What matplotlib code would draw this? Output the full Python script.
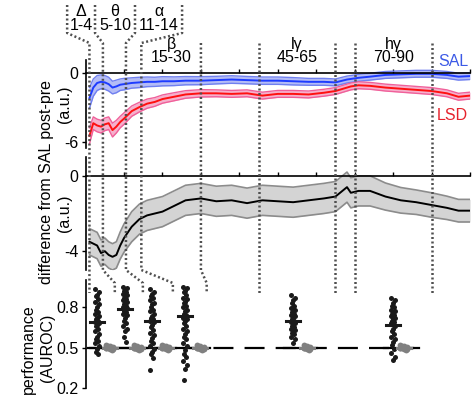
import matplotlib
matplotlib.use("Agg")
import matplotlib.pyplot as plt
from matplotlib.lines import Line2D
from matplotlib import transforms

plt.rcParams['font.family'] = ['Liberation Sans', 'DejaVu Sans']
plt.rcParams['font.size'] = 11.5

# spectra (Hz) -------------------------------------------------------------
freqs = [1, 2, 3, 4, 5, 6, 7, 8, 9, 10, 12, 14, 16, 18, 20, 23, 26, 30, 34, 38,
         42, 46, 50, 54, 58, 62, 65, 68, 69, 71, 74, 78, 82, 86, 90, 94, 97, 100]
sal_mean = [-2.2, -1.3, -0.9, -0.8, -0.85, -1.0, -1.3, -1.2, -1.05, -1.0, -0.9, -0.85,
            -0.8, -0.8, -0.75, -0.75, -0.7, -0.7, -0.65, -0.6, -0.65, -0.7, -0.7, -0.75,
            -0.8, -0.8, -0.85, -0.6, -0.55, -0.45, -0.35, -0.2, -0.15, -0.1, -0.1, -0.2,
            -0.35, -0.3]
sal_sem = [0.9, 0.75, 0.65, 0.6, 0.6, 0.6, 0.55, 0.55, 0.5, 0.5, 0.45, 0.45, 0.42, 0.4,
           0.4, 0.38, 0.36, 0.35, 0.33, 0.33, 0.32, 0.32, 0.32, 0.32, 0.3, 0.3, 0.3, 0.3,
           0.3, 0.3, 0.3, 0.3, 0.3, 0.3, 0.3, 0.3, 0.3, 0.3]
lsd_mean = [-5.5, -4.4, -4.6, -4.7, -4.5, -4.4, -5.0, -4.7, -4.3, -4.0, -3.35, -3.0,
            -2.7, -2.55, -2.3, -2.1, -1.9, -1.8, -1.8, -1.85, -1.8, -2.0, -1.85, -1.85,
            -1.9, -1.75, -1.6, -1.3, -1.2, -1.1, -1.15, -1.3, -1.4, -1.5, -1.6, -1.8,
            -2.1, -2.0]
lsd_sem = [0.7, 0.55, 0.55, 0.55, 0.55, 0.55, 0.6, 0.55, 0.5, 0.5, 0.45, 0.42, 0.4, 0.38,
           0.36, 0.35, 0.33, 0.32, 0.3, 0.3, 0.3, 0.3, 0.3, 0.3, 0.3, 0.3, 0.3, 0.3, 0.3,
           0.3, 0.3, 0.3, 0.3, 0.3, 0.3, 0.3, 0.3, 0.3]
diff_mean = [-3.5, -3.6, -3.7, -4.1, -4.0, -4.2, -4.3, -4.2, -3.7, -3.3, -2.7, -2.3,
             -2.1, -2.0, -1.9, -1.6, -1.3, -1.2, -1.35, -1.3, -1.45, -1.3, -1.35, -1.4,
             -1.3, -1.2, -1.1, -0.6, -0.9, -0.8, -0.8, -1.1, -1.3, -1.4, -1.55, -1.7,
             -1.85, -1.85]
diff_sem = [0.7, 0.7, 0.7, 0.7, 0.7, 0.7, 0.7, 0.7, 0.72, 0.75, 0.8, 0.8, 0.8, 0.8, 0.8,
            0.8, 0.8, 0.8, 0.8, 0.8, 0.8, 0.8, 0.8, 0.8, 0.8, 0.8, 0.8, 0.8, 0.8, 0.8,
            0.8, 0.72, 0.68, 0.65, 0.65, 0.62, 0.6, 0.6]

# frequency bands -----------------------------------------------------------
band_names = ["Δ", "θ", "α", "β", "lγ", "hγ"]
band_ranges = ["1-4", "5-10", "11-14", "15-30", "45-65", "70-90"]
band_edges = [1, 4.5, 10.5, 14.5, 30, 45, 65, 70, 90]

# decoding performance (AUROC) per band --------------------------------------
auroc_delta = [0.93, 0.91, 0.89, 0.88, 0.86, 0.84, 0.82, 0.80, 0.78, 0.76, 0.75, 0.73,
               0.72, 0.71, 0.70, 0.69, 0.68, 0.67, 0.66, 0.64, 0.62, 0.60, 0.58, 0.56,
               0.55, 0.53, 0.51, 0.49, 0.47, 0.455]
auroc_theta = [0.95, 0.94, 0.93, 0.92, 0.91, 0.90, 0.89, 0.88, 0.87, 0.86, 0.85, 0.84,
               0.83, 0.82, 0.81, 0.80, 0.79, 0.78, 0.77, 0.76, 0.75, 0.74, 0.72, 0.70,
               0.68, 0.66, 0.64, 0.62, 0.58, 0.54]
auroc_alpha = [0.93, 0.91, 0.90, 0.88, 0.87, 0.85, 0.83, 0.82, 0.80, 0.78, 0.77, 0.75,
               0.73, 0.72, 0.71, 0.70, 0.69, 0.67, 0.65, 0.63, 0.61, 0.59, 0.57, 0.55,
               0.53, 0.51, 0.49, 0.47, 0.45, 0.42, 0.335]
auroc_beta = [0.95, 0.94, 0.92, 0.91, 0.89, 0.87, 0.86, 0.84, 0.83, 0.81, 0.80, 0.78,
              0.77, 0.75, 0.74, 0.72, 0.71, 0.70, 0.68, 0.66, 0.64, 0.62, 0.60, 0.58,
              0.56, 0.53, 0.51, 0.48, 0.45, 0.43, 0.40, 0.37, 0.34, 0.26]
auroc_lgamma = [0.89, 0.87, 0.85, 0.83, 0.81, 0.79, 0.78, 0.77, 0.76, 0.75, 0.74, 0.73,
                0.72, 0.71, 0.70, 0.69, 0.68, 0.67, 0.66, 0.65, 0.64, 0.63, 0.62, 0.61,
                0.60, 0.58, 0.56, 0.53]
auroc_hgamma = [0.87, 0.85, 0.83, 0.81, 0.80, 0.78, 0.77, 0.76, 0.75, 0.74, 0.73, 0.72,
                0.71, 0.70, 0.69, 0.68, 0.66, 0.64, 0.62, 0.60, 0.58, 0.56, 0.54, 0.52,
                0.49, 0.46, 0.43, 0.41]
auroc_means = [0.69, 0.785, 0.70, 0.73, 0.70, 0.67]
shuffle_auroc = [0.50, 0.49, 0.51, 0.50, 0.48, 0.52, 0.50, 0.49, 0.51, 0.50, 0.495, 0.505]
auroc_all = [auroc_delta, auroc_theta, auroc_alpha, auroc_beta, auroc_lgamma, auroc_hgamma]

# layout (Hz coordinates on the shared x scale) -----------------------------
label_edges_low = [-4.8, 2.45, 12.85, 25.1]      # spread-out edges for Δ θ α labels
bottom_edges = [1, 7.6, 14.9, 22.7, 31.5, 45, 65, 70, 90]
real_x = [3.0, 10.25, 17.3, 25.9, 54, 80]
shuf_x = [6.3, 13.4, 20.9, 29.8, 57.6, 82.8]

W, H = 473, 405
fig = plt.figure(figsize=(W / 100, H / 100), dpi=100)


def fy(px):
    return 1 - px / H


x0 = 85.6 / W
wd = (470 - 85.6) / W
ax1 = fig.add_axes([x0, fy(148), wd, 88 / H])
ax2 = fig.add_axes([x0, fy(270), wd, 113 / H])
ax3 = fig.add_axes([x0, fy(388), wd, 108 / H])

blue, blue_f, blue_e = '#1e3cff', '#b4bcf6', '#7080f0'
red, red_f, red_e = '#ff1010', '#f6b0cc', '#f0609a'

for ax in (ax1, ax2, ax3):
    ax.set_facecolor('none')
    ax.set_xlim(0, 100)
    ax.spines['right'].set_visible(False)
    ax.spines['bottom'].set_visible(False)
    ax.tick_params(axis='y', direction='out', length=3, width=1, pad=2)
    ax.spines['left'].set_linewidth(1.2)

for ax in (ax1, ax2):
    ax.spines['top'].set_position(('data', 0))
    ax.spines['top'].set_linewidth(1.2)
    ax.xaxis.set_ticks_position('top')
    ax.set_xticks(range(10, 101, 10))
    ax.tick_params(axis='x', direction='out', length=3, width=1, labeltop=False)
ax3.spines['top'].set_visible(False)
ax3.set_xticks([])

# top panel: SAL and LSD post-pre
lo = [m - s for m, s in zip(sal_mean, sal_sem)]
hi = [m + s for m, s in zip(sal_mean, sal_sem)]
ax1.fill_between(freqs, lo, hi, color=blue_f, lw=0)
ax1.plot(freqs, lo, color=blue_e, lw=1)
ax1.plot(freqs, hi, color=blue_e, lw=1)
ax1.plot(freqs, sal_mean, color=blue, lw=1.4)
lo = [m - s for m, s in zip(lsd_mean, lsd_sem)]
hi = [m + s for m, s in zip(lsd_mean, lsd_sem)]
ax1.fill_between(freqs, lo, hi, color=red_f, lw=0)
ax1.plot(freqs, lo, color=red_e, lw=1)
ax1.plot(freqs, hi, color=red_e, lw=1)
ax1.plot(freqs, lsd_mean, color=red, lw=1.4)
ax1.set_ylim(-6.56, 1.1)
ax1.set_yticks([0, -6])
ax1.set_yticklabels(['0', '-6'])
ax1.text(95.6, 1.0, 'SAL', color='#3c5ae6', ha='center', va='center')
ax1.text(95.4, -3.75, 'LSD', color='#e6232d', ha='center', va='center')

# middle panel: difference LSD - SAL
lo = [m - s for m, s in zip(diff_mean, diff_sem)]
hi = [m + s for m, s in zip(diff_mean, diff_sem)]
ax2.fill_between(freqs, lo, hi, color='#d4d4d4', lw=0)
ax2.plot(freqs, lo, color='#8c8c8c', lw=1.2)
ax2.plot(freqs, hi, color='#8c8c8c', lw=1.2)
ax2.plot(freqs, diff_mean, color='black', lw=1.4)
ax2.set_ylim(-5.0, 1.0)
ax2.set_yticks([0, -4])
ax2.set_yticklabels(['0', '-4'])

# bottom panel: decoding performance
ax3.set_ylim(0.2, 1.0)
ax3.set_yticks([0.2, 0.5, 0.8])
ax3.set_yticklabels(['0.2', '0.5', '0.8'])
ax3.plot([1, 88], [0.5, 0.5], color='black', lw=1.6, dashes=(9, 5), zorder=1)
jit = [-0.45, 0.45, 0.0, -0.25, 0.25]
for i, vals in enumerate(auroc_all):
    ax3.plot([real_x[i] - 2.5, shuf_x[i] + 2.5], [0.5, 0.5], color='black', lw=1.6, zorder=1)
    xs = [real_x[i] + jit[k % 5] for k in range(len(vals))]
    ax3.plot(xs, vals, 'o', color='#1a1a1a', ms=3.6, mew=0, zorder=3)
    ax3.plot([real_x[i] - 1.8, real_x[i] + 1.8], [auroc_means[i]] * 2, color='#1a1a1a',
             lw=2.2, zorder=4)
    sx = [shuf_x[i] + jit[k % 5] * 2 for k in range(len(shuffle_auroc))]
    ax3.plot(sx, shuffle_auroc, 'o', color='#808080', ms=4.2, mew=0, zorder=3)
    ax3.plot([shuf_x[i] - 1.8, shuf_x[i] + 1.8], [0.5, 0.5], color='#808080', lw=2.2, zorder=4)

# dotted band boundaries running across the panels
tr = transforms.blended_transform_factory(ax1.transData, fig.transFigure)
for i, e in enumerate(band_edges):
    if i < 4:
        xs = [label_edges_low[i], label_edges_low[i], e, e, bottom_edges[i], bottom_edges[i]]
        ys = [fy(5), fy(33), fy(43), fy(270), fy(283), fy(293)]
    else:
        xs = [e, e, bottom_edges[i], bottom_edges[i]]
        ys = [fy(43), fy(270), fy(283), fy(293)]
    fig.add_artist(Line2D(xs, ys, transform=tr, color='#505050', lw=1.8,
                          dashes=(0.8, 1.0), zorder=5))

# band labels (greek letter over range)
for i in range(6):
    if i < 3:
        cx = (label_edges_low[i] + label_edges_low[i + 1]) / 2
        cy = 18.5
    else:
        cx = (band_edges[2 * i - 3] + band_edges[2 * i - 2]) / 2
        cy = 51
    fig.text(cx, fy(cy), band_names[i] + '\n' + band_ranges[i], transform=tr,
             ha='center', va='center', linespacing=0.85)

fig.text(47 / W, fy(182), 'difference from SAL post-pre', rotation=90,
         ha='center', va='center')
fig.text(64 / W, fy(104), '(a.u.)', rotation=90, ha='center', va='center')
fig.text(64 / W, fy(213), '(a.u.)', rotation=90, ha='center', va='center')
fig.text(28 / W, fy(349), 'performance', rotation=90, ha='center', va='center')
fig.text(47 / W, fy(348), '(AUROC)', rotation=90, ha='center', va='center')

fig.savefig('out.png', dpi=100)
